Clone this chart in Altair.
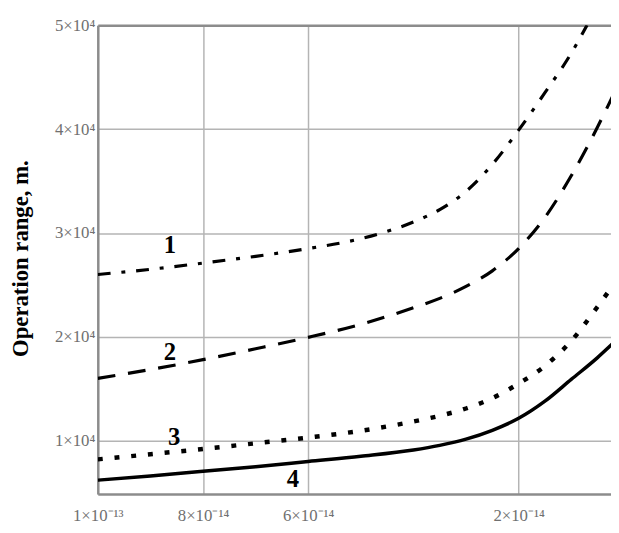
import altair as alt
import pandas as pd

# x values in units of 1e-14, y values in metres
c1_x = [10, 9, 8, 7, 6, 5, 4.5, 4, 3.5, 3, 2.5, 2, 1.5, 1, 0.7]
c1_y = [26000, 26500, 27100, 27750, 28500, 29450, 30150, 31050, 32250, 34000, 36600, 39900, 43500, 47300, 50000]

c2_x = [10, 9, 8, 7, 6, 5, 4, 3.5, 3, 2.5, 2, 1.5, 1, 0.5, 0.2]
c2_y = [16000, 16850, 17800, 18850, 19950, 21200, 22800, 23700, 24850, 26350, 28500, 31500, 35500, 40200, 43300]

c3_x = [10, 9, 8, 7, 6, 5, 4, 3.5, 3, 2.5, 2, 1.5, 1, 0.5, 0.2]
c3_y = [8200, 8700, 9200, 9750, 10300, 10950, 11850, 12400, 13100, 14100, 15500, 17200, 19600, 22900, 25000]

c4_x = [10, 9, 8, 7, 6, 5, 4, 3.5, 3, 2.5, 2, 1.5, 1, 0.5, 0.2]
c4_y = [6200, 6600, 7050, 7500, 8000, 8500, 9100, 9550, 10150, 11000, 12150, 13800, 15900, 18000, 19400]

label_text = ["1", "2", "3", "4"]
label_x = [8.63, 8.63, 8.55, 6.29]
label_y = [28800, 18550, 10300, 6300]

x_ticks = [10, 8, 6, 2]
y_ticks = [10000, 20000, 30000, 40000, 50000]

SCALE = 1e-14

def frame(xs, ys, name):
    return pd.DataFrame({"x": [v * SCALE for v in xs], "y": ys, "curve": name})

x_scale = alt.Scale(domain=[0.244 * SCALE, 10 * SCALE], reverse=True, nice=False, zero=False)
y_scale = alt.Scale(domain=[4870, 50000], nice=False, zero=False)

x_axis = alt.Axis(
    values=[v * SCALE for v in x_ticks],
    labelExpr="round(datum.value*1e14) == 10 ? '1×10⁻¹³' : format(round(datum.value*1e14), 'd') + '×10⁻¹⁴'",
    title=None,
    grid=True,
    gridColor="#b4b4b4",
    gridWidth=1.5,
    domainColor="#8c8c8c",
    domainWidth=2.5,
    ticks=False,
    labelPadding=14,
    labelFont="Liberation Serif",
    labelFontSize=17,
    labelColor="#707070",
    labelFlush=False,
)

y_axis = alt.Axis(
    values=y_ticks,
    labelExpr="format(datum.value/10000, 'd') + '×10⁴'",
    title="Operation range, m.",
    titleFont="Liberation Serif",
    titleFontSize=23,
    titleFontWeight="bold",
    titleColor="#000000",
    titleAngle=-90,
    titleX=-78,
    titleY=236,
    titleAlign="center",
    titleBaseline="middle",
    grid=True,
    gridColor=alt.condition(alt.datum.value == 50000, alt.value("#8c8c8c"), alt.value("#b4b4b4")),
    gridWidth=alt.condition(alt.datum.value == 50000, alt.value(2.5), alt.value(1.5)),
    domainColor="#8c8c8c",
    domainWidth=2.5,
    ticks=False,
    labelPadding=3,
    labelFont="Liberation Serif",
    labelFontSize=17,
    labelColor="#707070",
    labelFlush=False,
)

def curve(df, dash, width):
    props = dict(color="black", strokeWidth=width, clip=True, interpolate="monotone")
    if dash:
        props["strokeDash"] = dash
    return alt.Chart(df).mark_line(**props).encode(
        x=alt.X("x:Q", scale=x_scale, axis=x_axis),
        y=alt.Y("y:Q", scale=y_scale, axis=y_axis),
        order=alt.Order("x:Q", sort="descending"),
    )

l1 = curve(frame(c1_x, c1_y, "1"), [13, 11, 4, 11], 3.2)
l2 = curve(frame(c2_x, c2_y, "2"), [18, 13], 3.2)
l3 = curve(frame(c3_x, c3_y, "3"), [5, 12], 4.5)
l4 = curve(frame(c4_x, c4_y, "4"), None, 3.5)

labels_df = pd.DataFrame({"x": [v * SCALE for v in label_x], "y": label_y, "t": label_text})
labels = alt.Chart(labels_df).mark_text(
    font="Liberation Serif", fontSize=25, fontWeight="bold", color="black",
    align="center", baseline="middle",
).encode(
    x=alt.X("x:Q", scale=x_scale, axis=x_axis),
    y=alt.Y("y:Q", scale=y_scale, axis=y_axis),
    text="t:N",
)

chart = alt.layer(l1, l2, l3, l4, labels).properties(
    width=520,
    height=475,
    autosize=alt.AutoSizeParams(type="none"),
    padding={"left": 91, "top": 14, "right": 0, "bottom": 28},
).configure_view(stroke=None).configure(background="white")

chart.save("out.html", embed_options={"renderer": "svg", "actions": False})
